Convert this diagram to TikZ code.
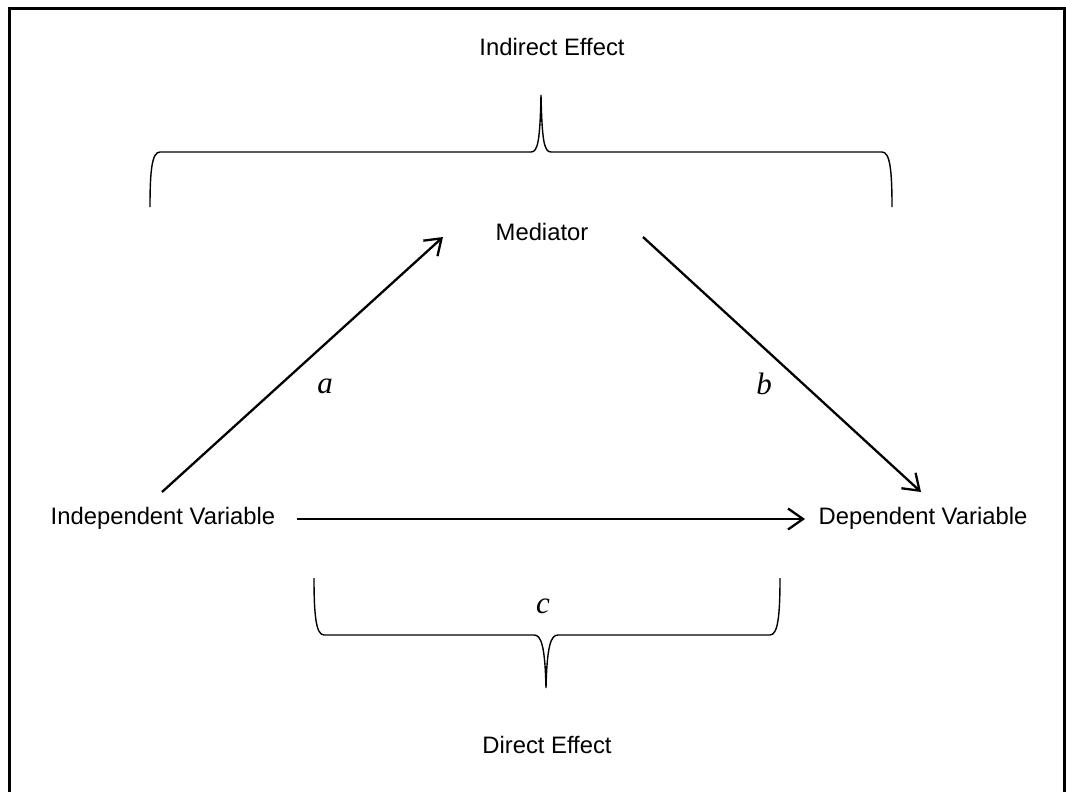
\documentclass[tikz,border=0pt]{standalone}
\usepackage{fontspec}
\setmainfont{Liberation Sans}
\newfontfamily\mitfont{Liberation Serif}
\usetikzlibrary{arrows.meta}
\tikzset{
  lbl/.style={inner sep=0pt, font=\fontsize{23.8}{26}\selectfont},
  mlbl/.style={inner sep=0pt, font=\mitfont\itshape\fontsize{31}{33}\selectfont},
  arr/.style={line width=2.3pt, -{Straight Barb[length=15pt,width=21pt,line width=2.3pt]}},
  brace/.style={line width=1.4pt},
  frame/.style={line width=3pt}
}
\begin{document}
\begin{tikzpicture}[x=1pt,y=-1pt]
\useasboundingbox (0,0) rectangle (1066,792);
\fill[white] (0,0) rectangle (1066,792);
\draw[frame] (9,800) -- (9,9) -- (1064,9) -- (1064,800);

% labels
\node[lbl] (ind) at (552,47) {Indirect Effect};
\node[lbl] (med) at (542,232) {Mediator};
\node[lbl] (iv) at (163,518) {Independent Variable};
\node[lbl] (dv) at (923,518) {Dependent Variable};
\node[lbl] (dir) at (547,745) {Direct Effect};
\node[mlbl] (la) at (325,386) {a};
\node[mlbl] (lb) at (764,384) {b};
\node[mlbl] (lc) at (543,606) {c};

% arrow end points
\coordinate (aS) at (162,492);
\coordinate (aE) at (443,237);
\coordinate (bS) at (643,237);
\coordinate (bE) at (921,492);
\coordinate (cS) at (297,519);
\coordinate (cE) at (805,519);

\draw[arr] (aS) -- (aE);
\draw[arr] (bS) -- (bE);
\draw[arr] (cS) -- (cE);

% top brace
\coordinate (tb) at (541,95);
\draw[brace] (150,207) .. controls (150,170) and (152,152) .. (160,152)
  -- (531,152) .. controls (538,152) and (540,140) .. (tb)
  .. controls (542,140) and (544,152) .. (551,152)
  -- (882,152) .. controls (890,152) and (892,170) .. (892,207);

% bottom brace
\coordinate (bb) at (546,688);
\draw[brace] (314,578) .. controls (314,615) and (316,635) .. (324,635)
  -- (534,635) .. controls (541,635) and (545,645) .. (bb)
  .. controls (547,645) and (551,635) .. (558,635)
  -- (770,635) .. controls (778,635) and (780,615) .. (780,578);
\end{tikzpicture}
\end{document}
